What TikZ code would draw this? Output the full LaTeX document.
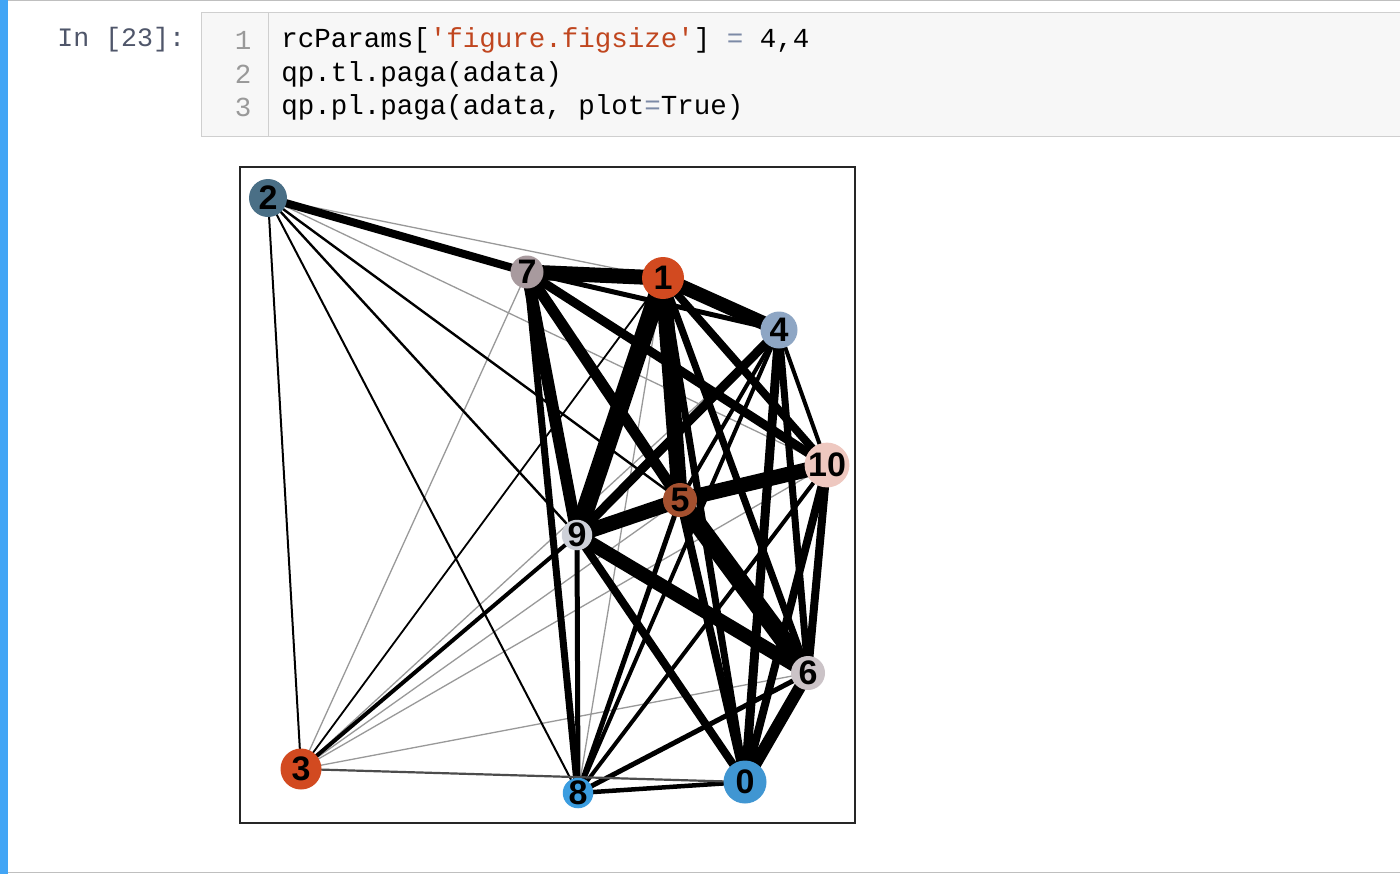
\documentclass[tikz,border=0pt]{standalone}
\usepackage{fontspec}
\newfontfamily\codefont{Liberation Mono}
\newfontfamily\numfont{Liberation Sans}
\definecolor{jblue}{HTML}{42A5F5}
\definecolor{cellbg}{HTML}{F7F7F7}
\definecolor{cellborder}{HTML}{CFCFCF}
\definecolor{prompt}{HTML}{4F566A}
\definecolor{lineno}{HTML}{999999}
\definecolor{strc}{HTML}{C0461F}
\definecolor{opc}{HTML}{7C8AA6}
\definecolor{cA}{HTML}{D24A20}
\definecolor{cB}{HTML}{4A6F86}
\definecolor{cC}{HTML}{A89A9E}
\definecolor{cD}{HTML}{8EA6C4}
\definecolor{cE}{HTML}{EEC8C0}
\definecolor{cF}{HTML}{A4502F}
\definecolor{cG}{HTML}{CDD0D8}
\definecolor{cH}{HTML}{CBC3C7}
\definecolor{cI}{HTML}{3B9DE0}
\definecolor{cJ}{HTML}{4096D2}
\pgfdeclarelayer{bg}
\pgfdeclarelayer{edges}
\pgfsetlayers{bg,edges,main}
\tikzset{
  vtx/.style={circle, draw=none, minimum size=#1, inner sep=0pt,
    font=\numfont\bfseries\fontsize{17}{17}\selectfont, text=black},
  codetxt/.style={anchor=west, inner sep=0pt, font=\codefont\fontsize{13.75}{16}\selectfont},
  lnum/.style={anchor=center, inner sep=0pt, text=lineno, font=\codefont\fontsize{13.75}{16}\selectfont},
}
\begin{document}
\begin{tikzpicture}[x=0.5pt,y=-0.5pt]
\useasboundingbox (0,0) rectangle (1400,874);
\begin{pgfonlayer}{bg}
\fill[white] (0,0) rectangle (1400,874);
\draw[gray!50, line width=0.5pt] (0,0.6) -- (1400,0.6);
\draw[gray!50, line width=0.5pt] (0,872.5) -- (1400,872.5);
\fill[jblue] (0,0) rectangle (8,874);
\filldraw[fill=cellbg, draw=cellborder, line width=0.5pt] (201,12) rectangle (1404,136);
\draw[cellborder, line width=0.5pt] (268,12) -- (268,136);
\end{pgfonlayer}

% prompt and code
\node[anchor=west, inner sep=0pt, text=prompt, font=\codefont\fontsize{13.3}{16}\selectfont] (prompt) at (57,40) {In [23]:};
\node[lnum] (l1) at (243,40) {1};
\node[lnum] (l2) at (243,74) {2};
\node[lnum] (l3) at (243,107) {3};
\node[codetxt] (c1) at (281,40) {rcParams[\textcolor{strc}{'figure.figsize'}] \textcolor{opc}{=} 4,4};
\node[codetxt] (c2) at (281,74) {qp.tl.paga(adata)};
\node[codetxt] (c3) at (281,107) {qp.pl.paga(adata, plot\textcolor{opc}{=}True)};

% frame
\draw[black!85, line width=1pt] (240,167) rectangle (855,823);

% nodes
\node[vtx=19pt,   fill=cB] (n2)  at (268,198) {2};
\node[vtx=16.5pt, fill=cC] (n7)  at (527,272) {7};
\node[vtx=21pt,   fill=cA] (n1)  at (663,278) {1};
\node[vtx=18.5pt, fill=cD] (n4)  at (779,330) {4};
\node[vtx=13.5pt, fill=cE] (n10) at (827,465) {10};
\node[vtx=17pt,   fill=cF] (n5)  at (680,500) {5};
\node[vtx=14.5pt, fill=cG] (n9)  at (577,535) {9};
\node[vtx=17pt,   fill=cH] (n6)  at (808,673) {6};
\node[vtx=20.5pt, fill=cA] (n3)  at (301,769) {3};
\node[vtx=15pt,   fill=cI] (n8)  at (578,793) {8};
\node[vtx=21.5pt, fill=cJ] (n0)  at (745,782) {0};

\begin{pgfonlayer}{edges}
% faint edges
\foreach \a/\b in {n2/n1, n2/n10, n3/n7, n3/n4, n3/n5, n3/n10, n3/n6, n1/n8}
  \draw[gray!80, line width=0.65pt] (\a.center) -- (\b.center);
% black edges
\foreach \a/\b/\w in {
  n2/n3/2, n2/n5/2.4, n2/n9/2.4, n2/n8/2, n3/n1/1.8,
  n3/n9/4, n7/n4/5, n9/n8/5, n8/n0/4.5, n8/n6/5, n4/n8/4, n10/n8/4,
  n4/n5/4, n5/n8/5, n4/n10/4,
  n2/n7/8, n7/n5/11, n7/n10/9, n7/n8/7, n4/n9/9, n6/n0/12, n4/n0/9,
  n10/n0/8, n4/n6/7, n10/n6/8, n9/n0/8, n5/n0/8, n1/n0/7, n1/n6/7, n1/n10/8,
  n1/n9/18, n1/n5/16, n5/n10/15, n5/n6/18, n5/n9/15, n9/n6/14, n7/n1/15,
  n1/n4/14, n7/n9/12}
  \draw[black, line width=\w*0.5pt] (\a.center) -- (\b.center);
\draw[black!70, line width=1.1pt] (n3.center) -- (n0.center);
\end{pgfonlayer}
\end{tikzpicture}
\end{document}
